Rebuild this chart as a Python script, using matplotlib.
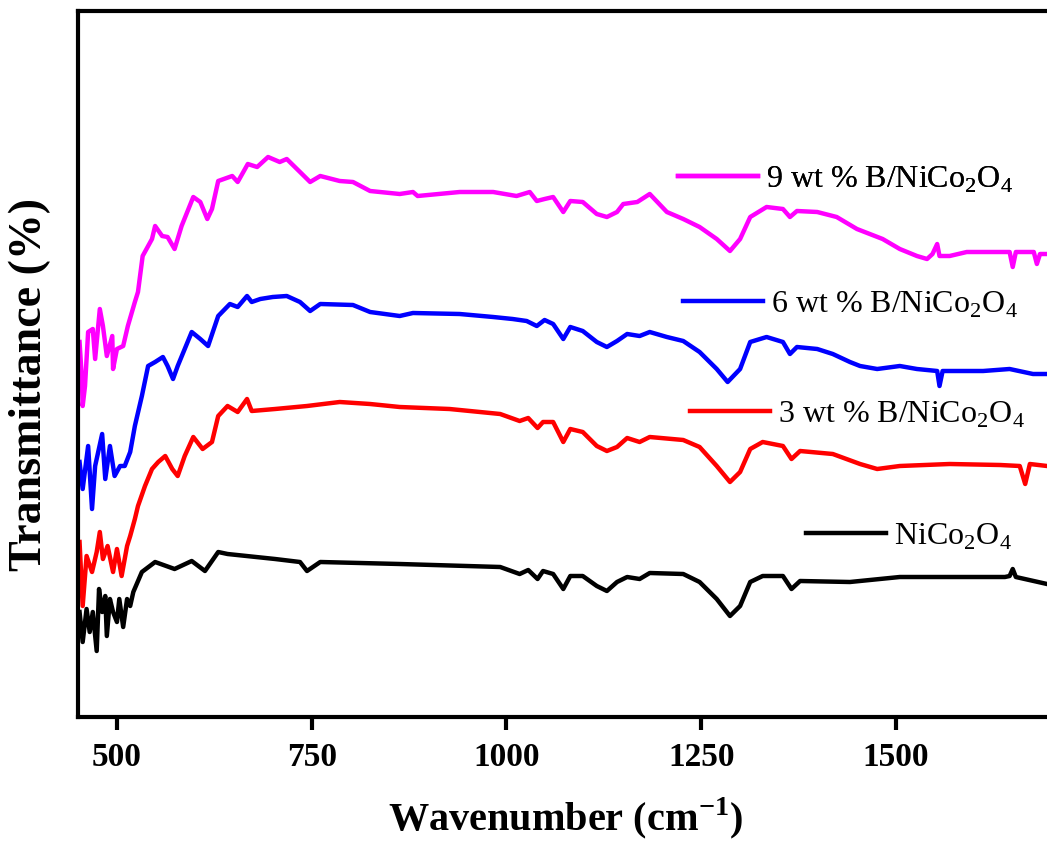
import matplotlib
matplotlib.use("Agg")
import matplotlib.pyplot as plt
from matplotlib.lines import Line2D

plt.rcParams['font.family'] = ['Liberation Serif', 'DejaVu Serif']
plt.rcParams['mathtext.fontset'] = 'custom'
plt.rcParams['mathtext.rm'] = 'Liberation Serif'
plt.rcParams['mathtext.bf'] = 'Liberation Serif:bold'

# FTIR spectra, values (transmittance, arbitrary offset units)
wn_pure = [452, 456, 461, 465, 469, 474, 477, 481, 485, 487, 491, 495, 500, 503, 508, 513, 517, 521, 532, 549,
           574, 596, 613, 630, 642, 703, 735, 744, 761, 863, 992, 1017, 1028, 1040, 1047, 1060, 1073, 1082, 1098, 1116,
           1129, 1142, 1155, 1171, 1184, 1227, 1248, 1270, 1287, 1300, 1313, 1329, 1355, 1366, 1377, 1441, 1505, 1569, 1640, 1646,
           1650, 1654, 1694]
t_pure = [10.5, 7.5, 10.8, 8.5, 10.5, 6.6, 12.8, 10.5, 12.1, 8.1, 11.8, 10.5, 9.5, 11.8, 9.0, 11.8, 11.1, 12.5, 14.5, 15.5,
          14.8, 15.6, 14.6, 16.5, 16.3, 15.8, 15.5, 14.6, 15.5, 15.3, 15.0, 14.3, 14.7, 13.8, 14.6, 14.3, 12.8, 14.1, 14.1, 13.1,
          12.6, 13.5, 14.0, 13.8, 14.4, 14.3, 13.5, 11.8, 10.1, 11.1, 13.5, 14.1, 14.1, 12.8, 13.6, 13.5, 14.0, 14.0, 14.0, 14.1,
          14.8, 14.0, 13.3]

wn_3 = [452, 456, 461, 468, 474, 478, 482, 488, 495, 500, 506, 513, 517, 523, 527, 536, 545, 553, 562, 571,
        578, 587, 598, 610, 622, 630, 642, 655, 667, 673, 703, 744, 786, 825, 863, 927, 992, 1017, 1028, 1040,
        1047, 1060, 1073, 1082, 1098, 1116, 1129, 1142, 1155, 1171, 1184, 1227, 1248, 1270, 1287, 1300, 1313, 1329, 1355, 1366,
        1377, 1419, 1454, 1476, 1505, 1569, 1634, 1659, 1666, 1672, 1694]
t_3 = [17.5, 11.1, 16.1, 14.5, 16.5, 18.5, 15.8, 17.1, 14.5, 16.8, 14.1, 17.1, 18.1, 19.8, 21.1, 23.1, 24.8, 25.5, 26.1, 24.8,
       24.1, 26.1, 28.0, 26.8, 27.5, 30.1, 31.1, 30.5, 31.8, 30.6, 30.8, 31.1, 31.5, 31.3, 31.0, 30.8, 30.3, 29.6, 29.9, 28.9,
       29.5, 29.5, 27.5, 28.8, 28.5, 27.1, 26.6, 27.0, 27.9, 27.5, 28.0, 27.7, 27.0, 25.1, 23.5, 24.5, 26.8, 27.5, 27.1, 25.8,
       26.6, 26.3, 25.3, 24.8, 25.1, 25.3, 25.2, 25.1, 23.3, 25.3, 25.1]

wn_6 = [452, 456, 463, 468, 472, 481, 485, 491, 497, 504, 510, 517, 523, 532, 540, 549, 559, 565, 572, 578,
        587, 596, 607, 617, 630, 645, 655, 667, 673, 684, 700, 718, 735, 748, 761, 803, 825, 863, 880, 940,
        983, 1008, 1026, 1039, 1049, 1060, 1073, 1082, 1098, 1116, 1129, 1142, 1155, 1171, 1184, 1206, 1227, 1248, 1270, 1284,
        1300, 1313, 1334, 1355, 1364, 1373, 1399, 1419, 1441, 1454, 1476, 1505, 1527, 1553, 1556, 1560, 1612, 1646, 1676, 1694]
t_6 = [25.5, 22.8, 27.1, 20.8, 25.1, 28.3, 23.8, 27.1, 24.1, 25.1, 25.1, 26.5, 29.1, 32.1, 35.1, 35.5, 36.0, 35.1, 33.8, 35.1,
       36.8, 38.5, 37.8, 37.1, 40.1, 41.3, 41.0, 42.1, 41.5, 41.8, 42.0, 42.1, 41.5, 40.6, 41.3, 41.2, 40.5, 40.1, 40.4, 40.3,
       40.0, 39.8, 39.6, 39.1, 39.7, 39.3, 37.8, 39.0, 38.6, 37.5, 37.0, 37.6, 38.3, 38.1, 38.5, 38.0, 37.6, 36.5, 34.8, 33.5,
       34.8, 37.5, 38.0, 37.5, 36.3, 37.0, 36.8, 36.3, 35.5, 35.1, 34.8, 35.1, 34.8, 34.6, 33.1, 34.6, 34.6, 34.8, 34.3, 34.3]

wn_9 = [452, 455, 456, 459, 463, 469, 472, 478, 482, 487, 494, 495, 500, 508, 514, 523, 527, 533, 545, 549,
        558, 565, 574, 583, 598, 607, 616, 622, 630, 648, 655, 668, 680, 694, 709, 718, 735, 748, 761, 786,
        803, 825, 863, 880, 886, 940, 983, 1013, 1030, 1039, 1049, 1060, 1073, 1082, 1098, 1116, 1129, 1142, 1150, 1168,
        1184, 1206, 1227, 1248, 1270, 1287, 1300, 1313, 1334, 1355, 1364, 1373, 1399, 1424, 1450, 1483, 1505, 1527, 1540, 1547,
        1553, 1556, 1569, 1591, 1612, 1646, 1650, 1654, 1677, 1681, 1685, 1694]
t_9 = [37.5, 33.8, 31.1, 33.1, 38.5, 38.8, 35.8, 40.8, 39.1, 36.1, 38.1, 34.8, 36.8, 37.1, 39.1, 41.5, 42.5, 46.1, 47.8, 49.1,
       48.1, 48.0, 46.8, 49.1, 52.0, 51.5, 49.8, 50.8, 53.6, 54.1, 53.5, 55.3, 55.0, 56.0, 55.5, 55.8, 54.5, 53.5, 54.1, 53.6,
       53.5, 52.6, 52.3, 52.5, 52.1, 52.5, 52.5, 52.1, 52.5, 51.6, 51.8, 52.0, 50.5, 51.6, 51.5, 50.3, 50.0, 50.5, 51.3, 51.5,
       52.3, 50.5, 49.8, 49.0, 47.8, 46.6, 47.8, 50.0, 51.0, 50.8, 50.0, 50.6, 50.5, 50.0, 48.8, 47.8, 46.8, 46.1, 45.8, 46.3,
       47.3, 46.1, 46.1, 46.5, 46.5, 46.5, 45.0, 46.5, 46.5, 45.3, 46.3, 46.3]

labels = ["NiCo$_\\mathregular{2}$O$_\\mathregular{4}$",
          "3 wt % B/NiCo$_\\mathregular{2}$O$_\\mathregular{4}$",
          "6 wt % B/NiCo$_\\mathregular{2}$O$_\\mathregular{4}$",
          "9 wt % B/NiCo$_\\mathregular{2}$O$_\\mathregular{4}$"]
colors = ["black", "#ff0000", "#0000ff", "#ff00ff"]
series = [(wn_pure, t_pure), (wn_3, t_3), (wn_6, t_6), (wn_9, t_9)]

fig = plt.figure(figsize=(10.47, 8.53), dpi=100)
ax = fig.add_axes([78 / 1047, 1 - 718 / 853, 1 - 78 / 1047, (718 - 12) / 853])

lines = []
for (x, y), c in zip(series, colors):
    ln, = ax.plot(x, y, color=c, lw=3.2, solid_joinstyle='round')
    lines.append(ln)

ax.set_xlim(450, 1694)
ax.set_ylim(0, 70.6)
ax.set_xticks([500, 750, 1000, 1250, 1500])
ax.set_yticks([])
ax.spines['right'].set_visible(False)
for s in ['left', 'top', 'bottom']:
    ax.spines[s].set_linewidth(3)
ax.tick_params(axis='x', direction='out', length=9, width=3, labelsize=24, pad=8)
for lab in ax.get_xticklabels():
    lab.set_fontweight('bold')

ax.set_xlabel("Wavenumber (cm$^\\mathregular{-1}$)", fontsize=29, fontweight='bold')
ax.xaxis.set_label_coords(0.503, -0.11)
ax.set_ylabel("Transmittance (%)", fontsize=33, fontweight='bold')
ax.yaxis.set_label_coords(-0.028, 0.472)

# hand-placed legend entries next to each curve
legend_pos = [(806, 537), (690, 415), (683, 305), (678, 180)]
for ln, lab, (px, py) in zip(lines, labels, legend_pos):
    h = Line2D([], [], color=ln.get_color(), lw=3.2)
    leg = ax.legend([h], [lab], loc='center left', bbox_to_anchor=(px / 1047, 1 - py / 853),
                    bbox_transform=fig.transFigure, frameon=False, fontsize=23,
                    handlelength=2.5, handletextpad=0.25, borderpad=0, borderaxespad=0)
    ax.add_artist(leg)

fig.savefig("out.png", dpi=100, facecolor='white')
